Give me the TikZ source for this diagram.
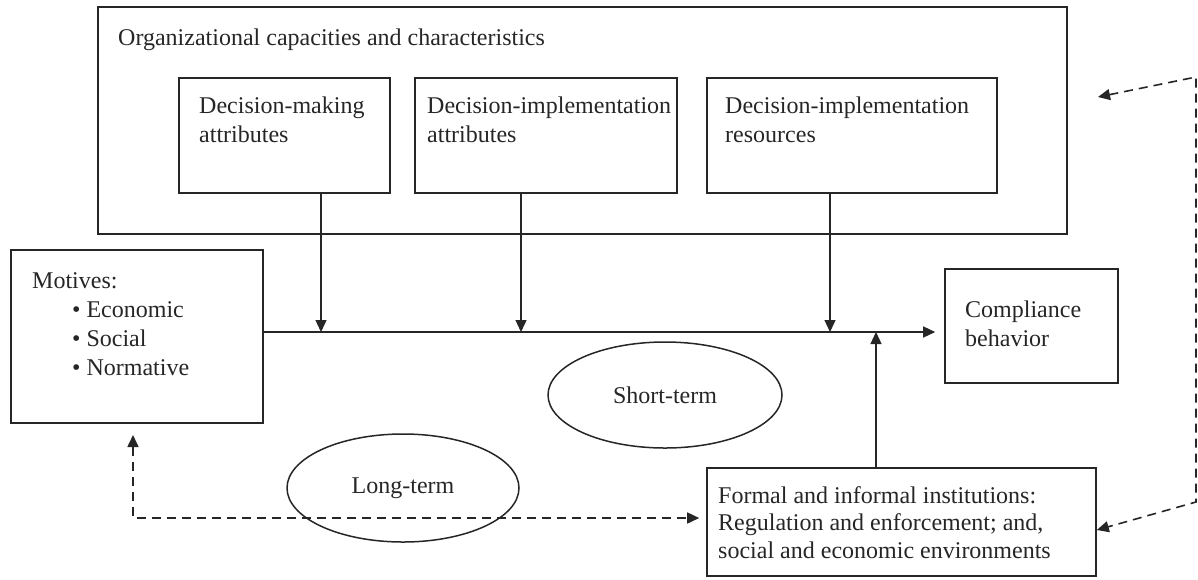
\documentclass[tikz,border=0pt]{standalone}
\usepackage{fontspec}
\setmainfont{Liberation Serif}
\usetikzlibrary{arrows.meta,shapes.geometric}
\definecolor{ink}{HTML}{262626}
\newcommand{\mlines}[1]{\begin{tabular}[t]{@{}l@{}}#1\end{tabular}}
\begin{document}
\begin{tikzpicture}[x=1pt,y=-1pt,
  box/.style={draw=ink, line width=1.6pt, inner sep=0pt},
  txt/.style={anchor=base west, inner sep=0pt, text=ink, font=\fontsize{24}{29}\selectfont},
  oval/.style={draw=ink, line width=1.5pt, ellipse, inner sep=0pt, text=ink, font=\fontsize{24}{29}\selectfont},
  arr/.style={draw=ink, line width=1.3pt, -{Triangle[length=12pt,width=11pt]}},
  darr/.style={draw=ink, line width=1.6pt, dash pattern=on 9pt off 6pt,
    {Triangle[length=12pt,width=11pt]}-{Triangle[length=12pt,width=11pt]}}
]
\useasboundingbox (0,0) rectangle (1198,579);

% boxes
\node[box, minimum width=969pt, minimum height=227pt] (outer) at (582.5,120.5) {};
\node[box, minimum width=211pt, minimum height=115pt] (b1) at (284.5,135.5) {};
\node[box, minimum width=262pt, minimum height=115pt] (b2) at (546,135.5) {};
\node[box, minimum width=290pt, minimum height=115pt] (b3) at (852,135.5) {};
\node[box, minimum width=252pt, minimum height=173pt] (mot) at (137,336.5) {};
\node[box, minimum width=173pt, minimum height=114pt] (comp) at (1031.5,326) {};
\node[box, minimum width=389pt, minimum height=108pt] (inst) at (901.5,522) {};

% ellipses
\node[oval, minimum width=234pt, minimum height=106pt] (short) at (665,395) {Short-term};
\node[oval, minimum width=232pt, minimum height=108pt] (long) at (403,488) {Long-term};

% texts
\node[txt] (ttl) at (118,45) {Organizational capacities and characteristics};
\node[txt] (t1) at (199,113) {\mlines{Decision-making\\attributes}};
\node[txt] (t2) at (427,113) {\mlines{Decision-implementation\\attributes}};
\node[txt] (t3) at (725,113) {\mlines{Decision-implementation\\resources}};
\node[txt] (tm) at (32,288) {\mlines{Motives:\\\hspace*{40pt}\textbullet\ Economic\\\hspace*{40pt}\textbullet\ Social\\\hspace*{40pt}\textbullet\ Normative}};
\node[txt] (tc) at (965,317) {\mlines{Compliance\\behavior}};
\node[txt, font=\fontsize{24}{27.5}\selectfont] (ti) at (718,503) {\mlines{Formal and informal institutions:\\Regulation and enforcement; and,\\social and economic environments}};

% junctions
\coordinate (j1) at (321,332);
\coordinate (j2) at (521,332);
\coordinate (j3) at (830,332);
\coordinate (j4) at (876,332);

% solid arrows
\draw[arr, shorten >=9pt] (mot.east |- j1) -- (comp.west |- j1);
\draw[arr] (b1.south -| j1) -- (j1);
\draw[arr] (b2.south -| j2) -- (j2);
\draw[arr] (b3.south -| j3) -- (j3);
\draw[arr] (inst.north -| j4) -- (j4);

% dashed feedback arrows
\coordinate (d0) at (133,435);
\coordinate (d1) at (133,518);
\draw[darr, shorten >=7pt] (d0) -- (d1) -- (inst.west |- d1);

\coordinate (r0) at (1098,97);
\coordinate (r1) at (1196,77);
\coordinate (r2) at (1196,502);
\draw[darr] (r0) -- (r1) -- (r2) -- ([yshift=-8pt]inst.east);
\end{tikzpicture}
\end{document}
